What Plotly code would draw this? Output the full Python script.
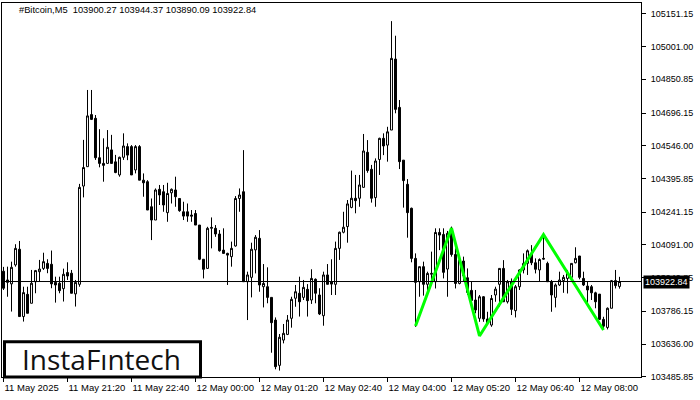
import plotly.graph_objects as go
import pandas as pd

# ---- data ----
start_time = "2025-05-11 20:00"
opens = [103970, 103930, 103912, 103999, 104071, 103762, 103864, 103823, 103922, 103968,
         103983, 104006, 104002, 103919, 103915, 103890, 103964, 103961, 103866, 103910,
         104361, 104450, 104689, 104672, 104491, 104465, 104465, 104527, 104472, 104412,
         104493, 104542, 104542, 104435, 104542, 104388, 104381, 104266, 104205, 104346,
         104335, 104239, 104330, 104343, 104304, 104243, 104243, 104228, 104235, 104182,
         104025, 103983, 104167, 104167, 104141, 104067, 104052, 104037, 104086, 104304,
         104335, 103922, 103942, 104068, 104121, 103899, 103899, 103850, 103746, 103538,
         103654, 103680, 103754, 103846, 103869, 103850, 103887, 103838, 103933, 103861,
         103766, 103953, 103922, 103910, 104075, 104149, 104175, 104263, 104305, 104305,
         104355, 104516, 104438, 104308, 104483, 104580, 104549, 104618, 104944, 104722,
         104480, 104369, 104259, 104029, 103922, 103991, 103910, 103956, 103922, 104148,
         104139, 103980, 104167, 104047, 103914, 104017, 103940, 103882, 103838, 103754,
         103853, 103751, 103723, 103861, 103910, 103983, 103830, 103922, 103789, 103899,
         103976, 104006, 104052, 104009, 103976, 104029, 104006, 103922, 103850, 103907,
         103927, 103937, 103942, 104009, 104040, 103937, 103902, 103899, 103871, 103865,
         103749, 103712, 103800, 103927, 103900.27]
highs = [103990, 103991, 104014, 104094, 104109, 103899, 103899, 103976, 103976, 104022,
         104055, 104025, 104065, 103945, 103945, 103982, 104011, 103976, 103930, 104371,
         104573, 104802, 104802, 104687, 104622, 104580, 104618, 104596, 104504, 104496,
         104603, 104557, 104549, 104549, 104549, 104419, 104388, 104304, 104350, 104366,
         104366, 104376, 104350, 104404, 104304, 104289, 104281, 104251, 104251, 104182,
         104025, 104174, 104217, 104182, 104159, 104167, 104055, 104106, 104315, 104350,
         104526, 103968, 104101, 104136, 104159, 104003, 103988, 103850, 103758, 103682,
         103728, 103769, 103853, 103907, 103945, 103930, 103911, 103979, 103937, 103892,
         103968, 104003, 104025, 104106, 104152, 104243, 104297, 104432, 104412, 104412,
         104600, 104572, 104458, 104488, 104583, 104603, 104633, 105118, 105051, 104756,
         104480, 104393, 104262, 104052, 103991, 104014, 103968, 104060, 104167, 104167,
         104167, 104155, 104175, 104075, 104037, 104037, 103983, 103922, 103884, 103861,
         103856, 103784, 103861, 103899, 103983, 104021, 103930, 103937, 103907, 103979,
         104052, 104070, 104090, 104029, 104029, 104138, 104014, 103930, 103914, 103968,
         103953, 103976, 104006, 104080, 104040, 103968, 103922, 103907, 103876, 103865,
         103761, 103804, 103930, 103976, 103944.37]
lows = [103884, 103853, 103785, 103991, 103762, 103739, 103777, 103823, 103869, 103922,
        103976, 103961, 103892, 103826, 103869, 103831, 103930, 103869, 103808, 103899,
        104309, 104450, 104664, 104481, 104447, 104381, 104465, 104465, 104420, 104404,
        104481, 104480, 104412, 104419, 104388, 104312, 104251, 104113, 104205, 104274,
        104243, 104197, 104281, 104266, 104243, 104205, 104197, 104197, 104182, 104021,
        103937, 103983, 104075, 104128, 104060, 104052, 103907, 103991, 104083, 104243,
        103922, 103746, 103850, 103960, 103876, 103804, 103823, 103596, 103520, 103514,
        103639, 103677, 103711, 103807, 103762, 103838, 103762, 103820, 103823, 103769,
        103720, 103910, 103861, 103861, 104022, 104144, 104101, 104259, 104236, 104266,
        104355, 104422, 104285, 104266, 104412, 104503, 104473, 104618, 104695, 104439,
        104262, 104124, 104011, 103715, 103853, 103858, 103876, 103922, 103891, 104067,
        103937, 103853, 104037, 103891, 103910, 103922, 103861, 103830, 103777, 103738,
        103738, 103723, 103715, 103830, 103807, 103830, 103822, 103769, 103758, 103884,
        103960, 103953, 103998, 103960, 103922, 104024, 103922, 103784, 103804, 103902,
        103871, 103868, 103933, 104006, 103933, 103902, 103810, 103838, 103800, 103746,
        103708, 103703, 103800, 103891, 103890.09]
closes = [103892, 103919, 103988, 104075, 103762, 103872, 103777, 103915, 103973, 103980,
          104014, 103983, 103912, 103907, 103881, 103956, 103948, 103869, 103919, 104355,
          104446, 104683, 104667, 104491, 104465, 104456, 104539, 104465, 104423, 104493,
          104545, 104503, 104412, 104542, 104388, 104376, 104251, 104205, 104343, 104320,
          104274, 104327, 104346, 104312, 104248, 104223, 104223, 104223, 104182, 104025,
          103979, 104167, 104171, 104141, 104064, 104052, 104044, 104075, 104304, 104320,
          103922, 103953, 104071, 104126, 103907, 103914, 103850, 103734, 103532, 103667,
          103685, 103746, 103841, 103876, 103830, 103896, 103835, 103937, 103869, 103774,
          103953, 103910, 103911, 104075, 104149, 104172, 104279, 104305, 104294, 104366,
          104522, 104432, 104305, 104476, 104580, 104545, 104610, 104947, 104713, 104473,
          104386, 104239, 104029, 103919, 103991, 103910, 103960, 103960, 104148, 104136,
          103965, 104144, 104047, 103914, 104021, 103950, 103873, 103836, 103792, 103853,
          103751, 103731, 103845, 103888, 103983, 103830, 103922, 103795, 103899, 103976,
          104006, 104064, 104009, 103979, 104024, 104026, 103922, 103861, 103907, 103930,
          103942, 103960, 104006, 104029, 103942, 103907, 103884, 103871, 103830, 103749,
          103718, 103800, 103927, 103904, 103922.84]

tick_bars = [0, 16, 32, 48, 64, 80, 96, 112, 128, 144]
tick_labels = ["11 May 2025", "11 May 21:20", "11 May 22:40", "12 May 00:00", "12 May 01:20",
               "12 May 02:40", "12 May 04:00", "12 May 05:20", "12 May 06:40", "12 May 08:00"]
price_ticks = [105151.15, 105001.00, 104850.85, 104696.15, 104546.00, 104395.85,
               104241.15, 104091.00, 103940.85, 103786.15, 103636.00, 103485.85]
pattern_bars = [103, 112, 119, 135, 150]
pattern_prices = [103719, 104168, 103673, 104138, 103700]
last_price = 103922.84
symbol = "#Bitcoin,M5"
y_range = [103484.6, 105201.2]

# ---- figure ----
times = pd.date_range(start_time, periods=len(opens), freq="5min")
step = pd.Timedelta(minutes=5)
x_range = [times[0] - 0.375 * step, times[0] + 159.375 * step]

fig = go.Figure()
fig.add_trace(go.Candlestick(
    x=times, open=opens, high=highs, low=lows, close=closes,
    increasing=dict(line=dict(color="black", width=1), fillcolor="white"),
    decreasing=dict(line=dict(color="black", width=1), fillcolor="black"),
    whiskerwidth=0, showlegend=False, hoverinfo="skip"))

fig.add_trace(go.Scatter(
    x=[times[i] for i in pattern_bars], y=pattern_prices, mode="lines",
    line=dict(color="#00ff00", width=3), showlegend=False, hoverinfo="skip"))

fig.add_shape(type="line", xref="paper", x0=0, x1=1, yref="y", y0=last_price, y1=last_price,
              line=dict(color="black", width=1), layer="above")

font = "Liberation Sans, Arial, sans-serif"
fig.update_layout(
    width=700, height=400,
    margin=dict(l=2, r=59, t=3, b=23, autoexpand=False),
    paper_bgcolor="white", plot_bgcolor="white",
    font=dict(family=font, size=9, color="black"),
    showlegend=False,
    xaxis=dict(type="date", range=x_range, rangeslider=dict(visible=False),
               showgrid=False, zeroline=False, showline=True, linecolor="black", linewidth=1,
               mirror=True, ticks="outside", ticklen=4, tickcolor="black", tickangle=0,
               ticklabelstandoff=2,
               tickvals=[times[i] for i in tick_bars], ticktext=tick_labels,
               ticklabelposition="outside right", tickfont=dict(size=9.5, color="black")),
    yaxis=dict(side="right", range=y_range, showgrid=False, zeroline=False,
               showline=True, linecolor="black", linewidth=1, mirror=True,
               ticks="outside", ticklen=4, tickcolor="black", ticklabelstandoff=3,
               tickvals=price_ticks, ticktext=[f"{v:.2f}" for v in price_ticks],
               tickfont=dict(size=9, color="black")),
)

# title (OHLC of last bar)
title = f"{symbol}\u00a0\u00a0{opens[-1]:.2f} {highs[-1]:.2f} {lows[-1]:.2f} {closes[-1]:.2f}"
fig.add_annotation(text=title, xref="paper", yref="paper", x=15 / 639, y=1,
                   xanchor="left", yanchor="top", yshift=0, showarrow=False,
                   font=dict(family=font, size=9.3, color="black"))

# current price label
fig.add_annotation(text=f"{last_price:.2f}", xref="paper", yref="y", x=1, y=last_price,
                   xanchor="left", yanchor="middle", xshift=2, showarrow=False,
                   bgcolor="black", borderpad=1,
                   font=dict(family=font, size=9, color="white"))

# logo box
fig.add_shape(type="rect", xref="paper", yref="paper",
              x0=2.5 / 639, x1=198.5 / 639, y0=0.0, y1=35.3 / 374,
              line=dict(color="black", width=3), fillcolor="white", layer="above")
fig.add_annotation(text="InstaF\u0131ntech", xref="paper", yref="paper",
                   x=99.5 / 639, y=18 / 374, xanchor="center", yanchor="middle",
                   showarrow=False, font=dict(family="Open Sans, sans-serif", size=28, color="#111111"))

fig.write_html("out.html", config={"displayModeBar": False},
               post_script="document.body.style.margin='0';document.body.style.padding='0';")
